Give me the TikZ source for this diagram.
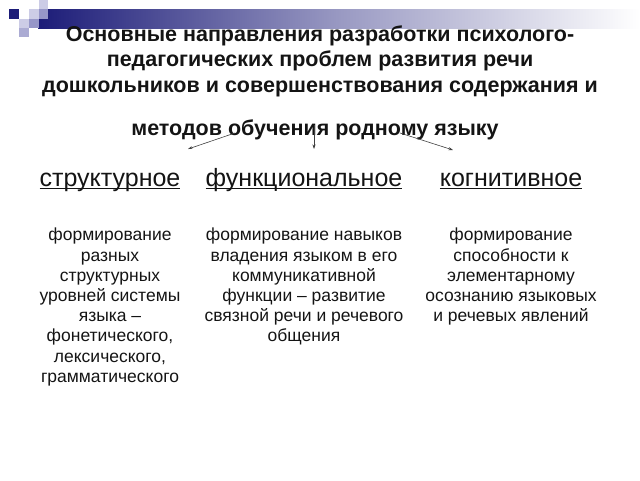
\documentclass[tikz,border=0pt]{standalone}
\usepackage{fontspec}
\setmainfont{Liberation Sans}
\usetikzlibrary{arrows.meta}
\definecolor{navy}{RGB}{28,28,120}
\definecolor{lav}{RGB}{204,204,230}
\definecolor{midlav}{RGB}{150,150,200}
\definecolor{txt}{RGB}{20,20,20}
\newcommand\myul[1]{\setbox0\hbox{#1}\rlap{\rule[-2.8pt]{\wd0}{1.1pt}}\box0}
\tikzset{
  titletext/.style={font=\bfseries\fontsize{21.5}{25.5}\selectfont, text=txt, align=center, inner sep=0pt},
  headtext/.style={font=\fontsize{25}{29}\selectfont, text=txt, inner sep=0pt, anchor=base},
  bodytext/.style={font=\fontsize{17.5}{20.2}\selectfont, text=txt, align=center, inner sep=0pt, anchor=north},
  arr/.style={draw=black!75, line width=0.6pt, -{Stealth[length=4.5pt,width=3pt]}}
}
\begin{document}
\begin{tikzpicture}[x=1pt,y=-1pt]
\useasboundingbox (0,0) rectangle (640,480);
% decoration
\shade[left color=navy, right color=white, middle color=navy!45] (38,9) rectangle (640,28);
\fill[navy] (9,9) rectangle (19,19);
\fill[lav] (29,9) rectangle (38.5,19);
\fill[lav] (38.5,0) rectangle (48,9);
\fill[midlav] (38.5,9) rectangle (48,19);
\fill[lav] (19,19) rectangle (29,28);
\fill[midlav] (29,19) rectangle (38.5,28);
\fill[midlav!80] (19,28) rectangle (29,37);
% title
\node[titletext, anchor=north] (title) at (320,25.5) {Основные направления разработки психолого-\\педагогических проблем развития речи\\дошкольников и совершенствования содержания и};
\node[titletext, anchor=base] (title2) at (315,135.5) {методов обучения родному языку};
% headers
\node[headtext] (h1) at (110,186) {\myul{структурное}};
\node[headtext] (h2) at (304,186) {\myul{функциональное}};
\node[headtext] (h3) at (511,186) {\myul{когнитивное}};
% arrows
\coordinate (a1s) at (235,133); \coordinate (a1e) at (188,149);
\coordinate (a2s) at (314,125); \coordinate (a2e) at (314,149);
\coordinate (a3s) at (400,133); \coordinate (a3e) at (453,150);
\draw[arr] (a1s) -- (a1e);
\draw[arr] (a2s) -- (a2e);
\draw[arr] (a3s) -- (a3e);
% bodies
\node[bodytext] (b1) at (110,228) {формирование\\разных\\структурных\\уровней системы\\языка –\\фонетического,\\лексического,\\грамматического};
\node[bodytext] (b2) at (304,228) {формирование навыков\\владения языком в его\\коммуникативной\\функции – развитие\\связной речи и речевого\\общения};
\node[bodytext] (b3) at (511,228) {формирование\\способности к\\элементарному\\осознанию языковых\\и речевых явлений};
\end{tikzpicture}
\end{document}
